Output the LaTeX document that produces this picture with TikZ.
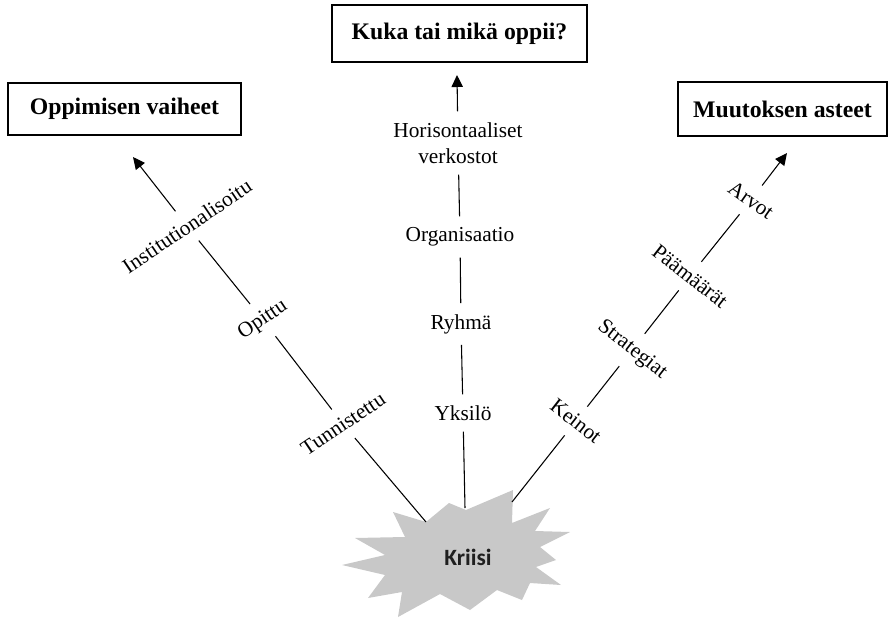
\documentclass[tikz,border=0pt]{standalone}
\usepackage{fontspec}
\setmainfont{Liberation Serif}
\newfontfamily\kriisifont{Carlito}
\usetikzlibrary{arrows.meta}
\definecolor{mygrey}{RGB}{200,200,200}
\tikzset{every picture/.style={line width=0.75pt}}
\tikzset{
  titlebox/.style={draw, line width=1.3pt, inner sep=0pt, font=\fontsize{17.8}{21}\selectfont\bfseries},
  stage/.style={font=\fontsize{16}{19.5}\selectfont, inner sep=4pt, align=center},
  link/.style={line width=0.8pt, shorten <=4pt, shorten >=4pt},
  uparrow/.style={line width=0.8pt, -{Triangle[length=9pt,width=8.5pt]}, shorten <=4pt},
}

\begin{document}
\begin{tikzpicture}[x=0.75pt,y=0.75pt,yscale=-1,xscale=1]
\useasboundingbox (0,0) rectangle (889,618);

%Shape: Starburst
\draw [fill=mygrey, draw=none] (393,512) -- (426,522) -- (449,503) -- (466,510) -- (513,490) -- (512,523) -- (550,508) -- (535,531) -- (570,532) -- (540,547) -- (556,560) -- (536,567) -- (561,585) -- (530,583) -- (522,600) -- (497,590) -- (470,610) -- (440,594) -- (398,617) -- (402,592) -- (368,598) -- (385,575) -- (342,565) -- (385,555) -- (355,538) -- (405,537) -- cycle ;
% Text Node
\node (kriisi) at (468,557) [font=\fontsize{17.5}{20}\kriisifont\bfseries, text=black!88] {Kriisi};

% Title boxes
\node (vaiheet) at (124.5,109) [titlebox, minimum width=174.75pt, minimum height=39pt] {Oppimisen vaiheet};
\node (oppii) at (459.5,33.5) [titlebox, minimum width=191.25pt, minimum height=42.75pt] {Kuka tai mikä oppii?};
\node (asteet) at (782.5,109) [titlebox, minimum width=156.75pt, minimum height=40.5pt] {Muutoksen asteet};

% Text Node
\node (inst) at (187,226) [stage, rotate=34] {Institutionalisoitu};
\node (opittu) at (263,320) [stage, rotate=34] {Opittu};
\node (tunn) at (343,424) [stage, rotate=34] {Tunnistettu};
% Text Node
\node (horis) at (458,143) [stage] {Horisontaaliset\\verkostot};
\node (org) at (460,237) [stage] {Organisaatio};
\node (ryhma) at (461,324) [stage] {Ryhmä};
\node (yksilo) at (463,413) [stage] {Yksilö};
% Text Node
\node (arvot) at (751,200) [stage, rotate=-35] {Arvot};
\node (paamaarat) at (690,276) [stage, rotate=-38] {Päämäärät};
\node (strat) at (632,350) [stage, rotate=-38] {Strategiat};
\node (keinot) at (576,421) [stage, rotate=-38] {Keinot};

% arrow tips and star edge points
\coordinate (lefttip) at (133,157);
\coordinate (midtip) at (457,75);
\coordinate (righttip) at (787,153);
\coordinate (leftend) at (426,522);
\coordinate (midend) at (465,508);
\coordinate (rightend) at (512,502);

% Left chain
\draw [uparrow] (inst) -- (lefttip);
\draw [link] (inst) -- (opittu);
\draw [link] (opittu) -- (tunn);
\draw [link, shorten >=0pt] (tunn) -- (leftend);
% Middle chain
\draw [uparrow] (horis) -- (midtip);
\draw [link] (horis) -- (org);
\draw [link] (org) -- (ryhma);
\draw [link] (ryhma) -- (yksilo);
\draw [link, shorten >=0pt] (yksilo) -- (midend);
% Right chain
\draw [uparrow] (arvot) -- (righttip);
\draw [link] (arvot) -- (paamaarat);
\draw [link] (paamaarat) -- (strat);
\draw [link] (strat) -- (keinot);
\draw [link, shorten >=0pt] (keinot) -- (rightend);

\end{tikzpicture}
\end{document}
